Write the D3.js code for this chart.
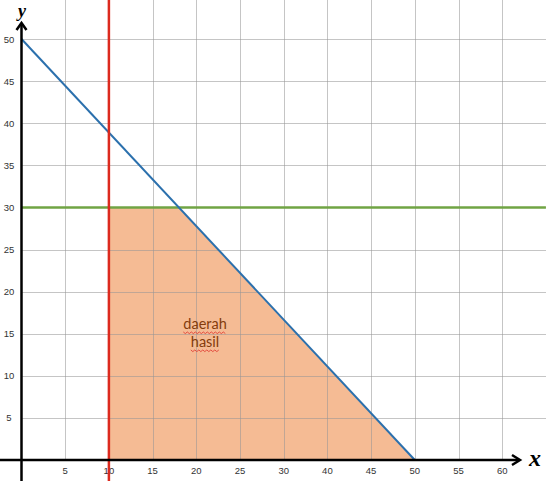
<!DOCTYPE html>
<html>
<head>
<meta charset="utf-8">
<script src="https://cdn.jsdelivr.net/npm/d3@7"></script>
<style>
  html, body { margin: 0; padding: 0; background: #fff; }
  svg { display: block; }
</style>
</head>
<body>
<svg id="chart" width="546" height="481"></svg>
<script>
// ---- data ----
const xTicks = [0, 5, 10, 15, 20, 25, 30, 40, 45, 50, 55, 60];
const xTickLabels = ["", "5", "10", "15", "20", "25", "30", "40", "45", "50", "55", "60"];
const yTicks = [5, 10, 15, 20, 25, 30, 35, 40, 45, 50];
const yTickLabels = ["5", "10", "15", "20", "25", "30", "35", "40", "45", "50"];
const blueLine = [[0, 50], [50, 0]];           // x + y = 50
const greenLine = [[0, 30], [65, 30]];         // y = 30
const redLine = [[10, -3], [10, 55]];          // x = 10
const region = [[10, 0], [10, 30], [18.0, 30], [50, 0]];
const regionLabel = { x: 21, y: 16, lines: ["daerah", "hasil"] };

// ---- scales ----
const svg = d3.select("#chart");
const W = 546, H = 481;
const x0 = 21.5, step = 43.7;
const x = d3.scaleLinear().domain(xTicks).range(xTicks.map((d, i) => x0 + i * step));
const y = d3.scaleLinear().domain([0, 50]).range([460, 39]);
const line = d3.line().x(d => x(d[0])).y(d => y(d[1]));

// ---- shaded region ----
svg.append("path")
  .attr("d", line(region) + "Z")
  .attr("fill", "#f5bb94");

// ---- grid ----
const grid = svg.append("g").attr("stroke", "rgba(150,150,150,0.55)").attr("stroke-width", 1);
grid.selectAll("line.v").data(xTicks.slice(1)).join("line")
  .attr("x1", d => Math.round(x(d)) + 0.5).attr("x2", d => Math.round(x(d)) + 0.5)
  .attr("y1", 0).attr("y2", y(0));
grid.selectAll("line.h").data(yTicks).join("line")
  .attr("x1", x(0)).attr("x2", W)
  .attr("y1", d => Math.round(y(d)) + 0.5).attr("y2", d => Math.round(y(d)) + 0.5);

// ---- tick labels ----
svg.append("g").selectAll("text").data(yTicks).join("text")
  .attr("x", 9).attr("y", d => y(d) + 3.5)
  .attr("text-anchor", "middle")
  .attr("font-family", "Liberation Sans, Arial, sans-serif")
  .attr("font-size", 9.5).attr("fill", "#333")
  .text((d, i) => yTickLabels[i]);
svg.append("g").selectAll("text").data(xTicks).join("text")
  .attr("x", d => x(d)).attr("y", y(0) + 14)
  .attr("text-anchor", "middle")
  .attr("font-family", "Liberation Sans, Arial, sans-serif")
  .attr("font-size", 9.5).attr("fill", "#333")
  .text((d, i) => xTickLabels[i]);

// ---- constraint lines ----
svg.append("path").attr("d", line(greenLine)).attr("stroke", "#70a444").attr("stroke-width", 2.5).attr("fill", "none");
svg.append("path").attr("d", line(blueLine)).attr("stroke", "#2b70ad").attr("stroke-width", 2).attr("fill", "none");
svg.append("path").attr("d", line(redLine)).attr("stroke", "#dc2a1e").attr("stroke-width", 2.5).attr("fill", "none");

// ---- axes ----
const ax = svg.append("g").attr("stroke", "#000").attr("stroke-width", 2.5).attr("fill", "none");
ax.append("line").attr("x1", x(0)).attr("x2", x(0)).attr("y1", H).attr("y2", 23);
ax.append("line").attr("x1", 0).attr("x2", 519).attr("y1", y(0)).attr("y2", y(0));
ax.append("path").attr("d", `M${x(0) - 5},${30} L${x(0)},${23} L${x(0) + 5},${30}`);
ax.append("path").attr("d", `M${512},${y(0) - 5} L${520},${y(0)} L${512},${y(0) + 5}`);

svg.append("text").attr("x", 22).attr("y", 16.5).attr("text-anchor", "middle")
  .attr("font-family", "Liberation Serif, DejaVu Serif, serif").attr("font-style", "italic").attr("font-weight", "bold")
  .attr("font-size", 18).text("y");
svg.append("text").attr("x", 535).attr("y", 466).attr("text-anchor", "middle")
  .attr("font-family", "Liberation Serif, DejaVu Serif, serif").attr("font-style", "italic").attr("font-weight", "bold")
  .attr("font-size", 24).text("x");

// ---- region label ----
const lbl = svg.append("g");
regionLabel.lines.forEach((t, i) => {
  const ty = y(regionLabel.y) + 4 + i * 18;
  const tx = lbl.append("text")
    .attr("x", x(regionLabel.x)).attr("y", ty)
    .attr("text-anchor", "middle")
    .attr("font-family", "Lato, Open Sans, sans-serif")
    .attr("font-size", 14.5).attr("fill", "#843c0c")
    .text(t);
  const bb = tx.node().getBBox();
  const yy = ty + 3;
  const pts = d3.range(0, Math.floor(bb.width / 2) + 1).map(k => [bb.x + k * 2, yy + (k % 2 ? 1.3 : -0.3)]);
  lbl.append("path").attr("d", d3.line()(pts)).attr("stroke", "#e0302a").attr("stroke-width", 0.8).attr("fill", "none");
});
</script>
</body>
</html>
